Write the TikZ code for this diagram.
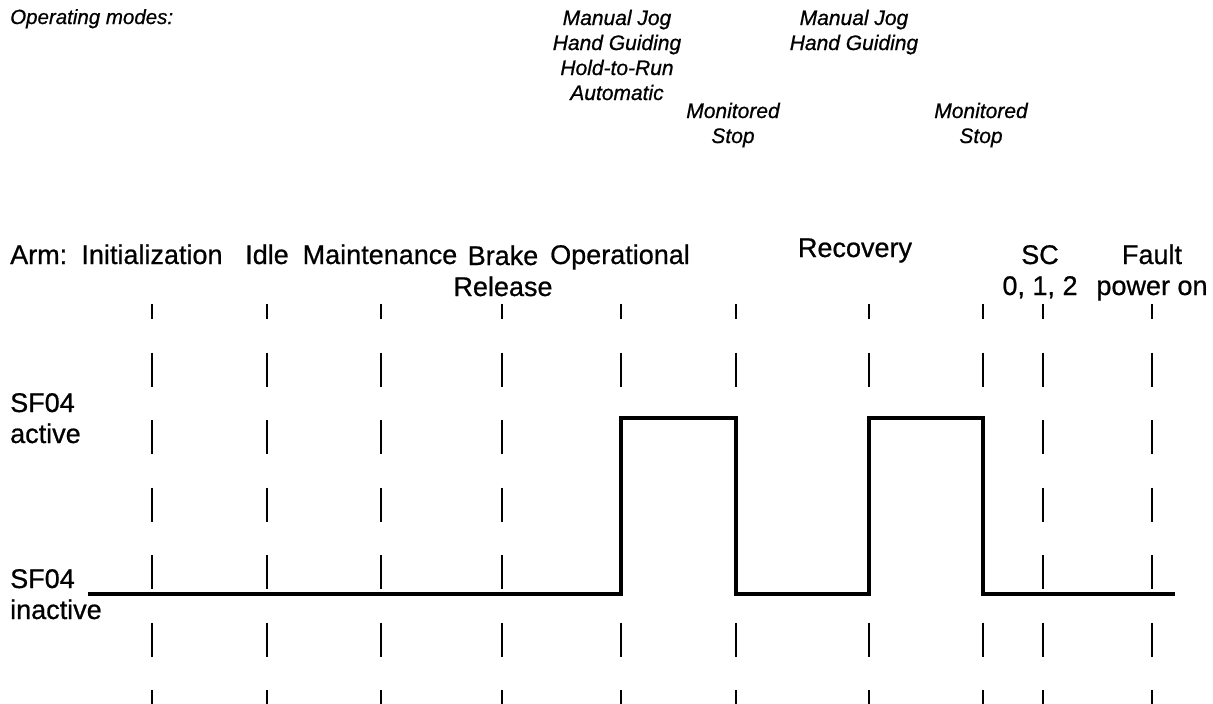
\documentclass[tikz,border=0pt]{standalone}
\usepackage{fontspec}
\setmainfont{Liberation Sans}[FakeBold=0.7]
\begin{document}
\begin{tikzpicture}[x=1pt,y=-1pt,
  lbl/.style={font=\fontsize{27}{31}\selectfont, inner sep=0pt, align=center, anchor=base},
  mode/.style={font=\fontsize{21}{25}\selectfont\itshape, inner sep=0pt, align=center, anchor=base},
  tick/.style={line width=2pt, dash pattern=on 34pt off 33.5pt, dash phase=19pt},
  signal/.style={line width=3.5pt, line join=miter}]
\useasboundingbox (0,0) rectangle (1213,704);
% column markers
\foreach \n/\x in {c1/152,c2/267,c3/381,c4/502,c5/621,c6/736,c7/869,c8/983,c9/1043,c10/1152}{
  \coordinate (\n t) at (\x,304);
  \coordinate (\n b) at (\x,704);
  \draw[tick] (\n t) -- (\n b);
}
% signal
\coordinate (s0) at (88,594);
\coordinate (s1) at (621,594);
\coordinate (s2) at (621,418);
\coordinate (s3) at (736,418);
\coordinate (s4) at (736,594);
\coordinate (s5) at (869,594);
\coordinate (s6) at (869,418);
\coordinate (s7) at (983,418);
\coordinate (s8) at (983,594);
\coordinate (s9) at (1175,594);
\draw[signal] (s0) -- (s1) -- (s2) -- (s3) -- (s4) -- (s5) -- (s6) -- (s7) -- (s8) -- (s9);
% labels
\node[font=\fontsize{20.5}{23}\selectfont\itshape, inner sep=0pt, anchor=base west] (opm) at (10,24) {Operating modes:};
\node[mode] (m1) at (617,100) {Manual Jog\\Hand Guiding\\Hold-to-Run\\Automatic};
\node[mode] (ms1) at (733,143) {Monitored\\Stop};
\node[mode] (m2) at (854,50) {Manual Jog\\Hand Guiding};
\node[mode] (ms2) at (981,143) {Monitored\\Stop};
\node[lbl, anchor=base west] (arm) at (10,264) {Arm:};
\node[lbl] (init) at (152,264) {Initialization};
\node[lbl] (idle) at (267,264) {Idle};
\node[lbl] (maint) at (380,264) {Maintenance};
\node[lbl] (brake) at (503,296) {Brake\\Release};
\node[lbl] (oper) at (620,264) {Operational};
\node[lbl] (recov) at (855,257) {Recovery};
\node[lbl] (sc) at (1040,295) {SC\\0, 1, 2};
\node[lbl] (fault) at (1152,295) {Fault\\power on};
\node[lbl, anchor=base west, align=left] (act) at (10,443) {SF04\\active};
\node[lbl, anchor=base west, align=left] (inact) at (10,619) {SF04\\inactive};
\end{tikzpicture}
\end{document}
